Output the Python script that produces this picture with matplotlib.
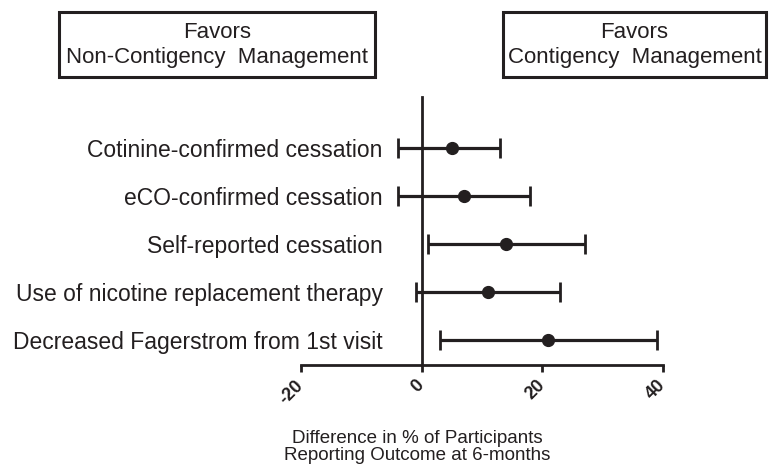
import matplotlib
matplotlib.use("Agg")
import matplotlib.pyplot as plt
from matplotlib.patches import Rectangle

plt.rcParams['font.family'] = ['Liberation Sans', 'DejaVu Sans']

categories = [
    "Cotinine-confirmed cessation",
    "eCO-confirmed cessation",
    "Self-reported cessation",
    "Use of nicotine replacement therapy",
    "Decreased Fagerstrom from 1st visit",
]
estimates = [5.0, 7.0, 14.0, 11.0, 21.0]
lower = [-4.0, -4.0, 1.0, -1.0, 3.0]
upper = [13.0, 18.0, 27.0, 23.0, 39.0]
xticks = [-20, 0, 20, 40]
xlabel = "Difference in % of Participants\nReporting Outcome at 6-months"
left_box = "Favors\nNon-Contigency  Management"
right_box = "Favors\nContigency  Management"

W, H = 769, 472
fig = plt.figure(figsize=(W / 100, H / 100), dpi=100)
ax = fig.add_axes([301 / W, (H - 365) / H, (663 - 301) / W, (365 - 97) / H])

ypos = list(range(len(categories), 0, -1))
err_lo = [e - l for e, l in zip(estimates, lower)]
err_hi = [u - e for e, u in zip(estimates, upper)]
ax.errorbar(estimates, ypos, xerr=[err_lo, err_hi], fmt='o', color='#231f20',
            ecolor='#231f20', elinewidth=2.3, capsize=7.5, capthick=2.0,
            markersize=8.5)

ax.set_xlim(-20, 40)
ax.set_ylim(0.48, 6.06)
ax.spines['top'].set_visible(False)
ax.spines['right'].set_visible(False)
ax.spines['left'].set_position(('data', 0))
for s in ('left', 'bottom'):
    ax.spines[s].set_linewidth(2.0)
    ax.spines[s].set_color('#231f20')

ax.set_xticks(xticks)
ax.set_xticklabels([str(t) for t in xticks], rotation=45, fontweight='bold',
                   fontsize=13, ha='right', va='center',
                   rotation_mode='anchor', color='#231f20')
ax.tick_params(axis='x', length=5, width=2.0, color='#231f20', pad=8)
ax.set_yticks(ypos)
ax.set_yticklabels(categories, fontsize=16.5, color='#231f20')
ax.tick_params(axis='y', length=0, pad=28)

fig.text(417 / W, 1 - 447 / H, xlabel, ha='center', va='center',
         fontsize=13.5, linespacing=1.0, color='#231f20')

for (x0, x1, txt) in [(59, 375, left_box), (503, 766, right_box)]:
    fig.patches.append(Rectangle((x0 / W, 1 - 77 / H), (x1 - x0) / W, 65 / H,
                                 transform=fig.transFigure, fill=False,
                                 lw=2.2, edgecolor='#231f20'))
    fig.text((x0 + x1) / 2 / W, 1 - 45 / H, txt, ha='center', va='center',
             fontsize=16, linespacing=1.3, color='#231f20')

fig.savefig("out.png", dpi=100)
